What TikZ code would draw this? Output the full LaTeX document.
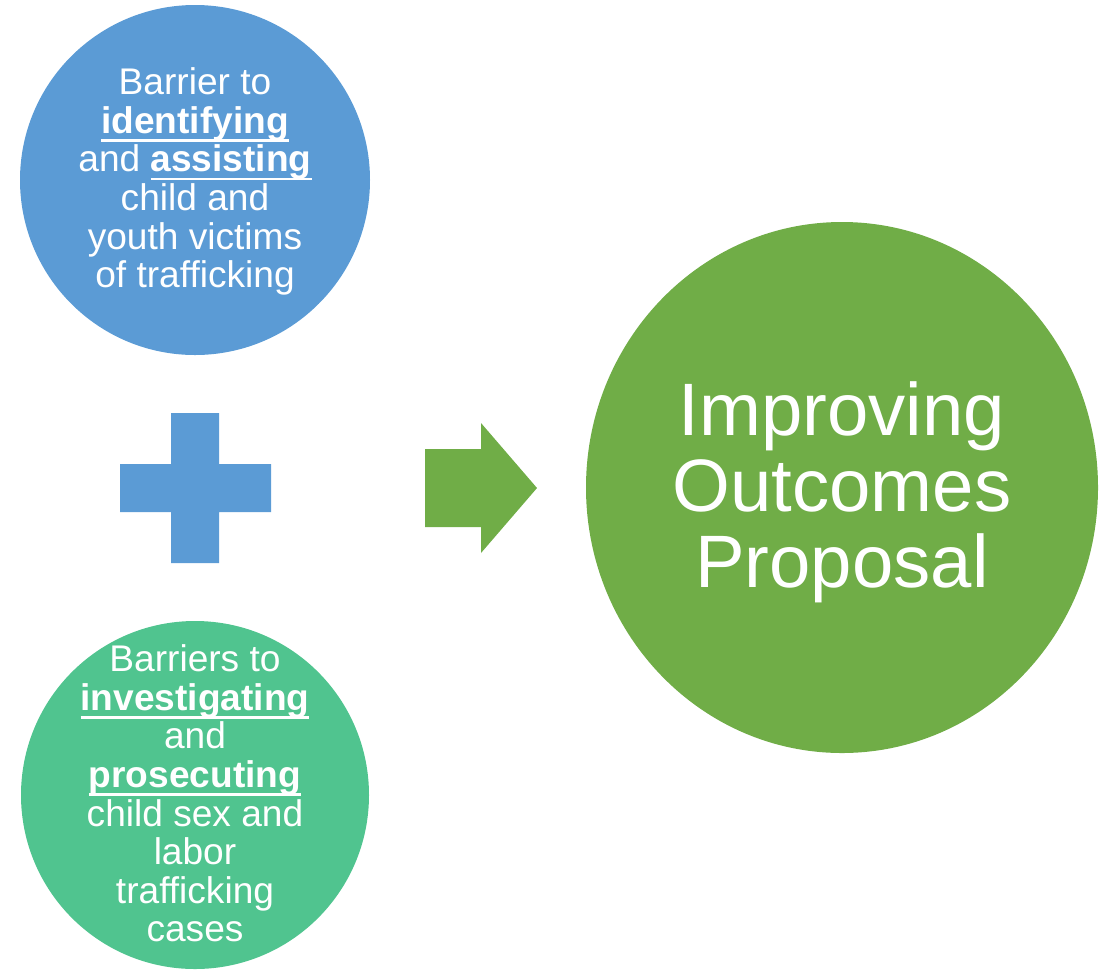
\documentclass[tikz,border=0pt]{standalone}
\usepackage{fontspec}
\setmainfont{Liberation Sans}
\usetikzlibrary{shapes.geometric}
\definecolor{cblue}{HTML}{5B9BD5}
\definecolor{cmint}{HTML}{50C48F}
\definecolor{cgreen}{HTML}{70AD47}
\newcommand\myul[1]{\setbox0\hbox{#1}\rlap{\smash{\rule[-0.23em]{\wd0}{0.075em}}}\box0}
\begin{document}
\begin{tikzpicture}[x=1pt,y=-1pt,
  smallcirc/.style={circle,minimum size=350pt,inner sep=0pt,draw=none},
  smalltext/.style={text=white,align=center,inner sep=0pt,font=\fontsize{37.1}{38.6}\selectfont},
  bigtext/.style={text=white,align=center,inner sep=0pt,font=\fontsize{74.3}{76}\selectfont}]
\useasboundingbox (0,0) rectangle (1099,970);
\begin{scope}
\clip (0,0) rectangle (1099,970);
\node[smallcirc,fill=cblue] (c1) at (195,180) {};
\node[smallcirc,fill=cmint,minimum size=348pt] (c2) at (195,795) {};
\node[ellipse,minimum width=512pt,minimum height=531pt,inner sep=0pt,fill=cgreen] (c3) at (842,487.5) {};
\end{scope}
\node[smalltext] (t1) at (195,181.5) {Barrier to\\\myul{\textbf{identifying}}\\and \myul{\textbf{assisting}}\\child and\\youth victims\\of trafficking};
\node[smalltext] (t2) at (195,793.5) {Barriers to\\\myul{\textbf{investigating}}\\and\\\myul{\textbf{prosecuting}}\\child sex and\\labor\\trafficking\\cases};
\node[bigtext] (t3) at (842,492) {Improving\\Outcomes\\Proposal};
\fill[cblue] (171,413) -- (219,413) -- (219,464) -- (271,464) -- (271,512) -- (219,512) -- (219,563) -- (171,563) -- (171,512) -- (120,512) -- (120,464) -- (171,464) -- cycle;
\fill[cgreen] (425,449) -- (481,449) -- (481,423) -- (537,488) -- (481,553) -- (481,527) -- (425,527) -- cycle;
\end{tikzpicture}
\end{document}
